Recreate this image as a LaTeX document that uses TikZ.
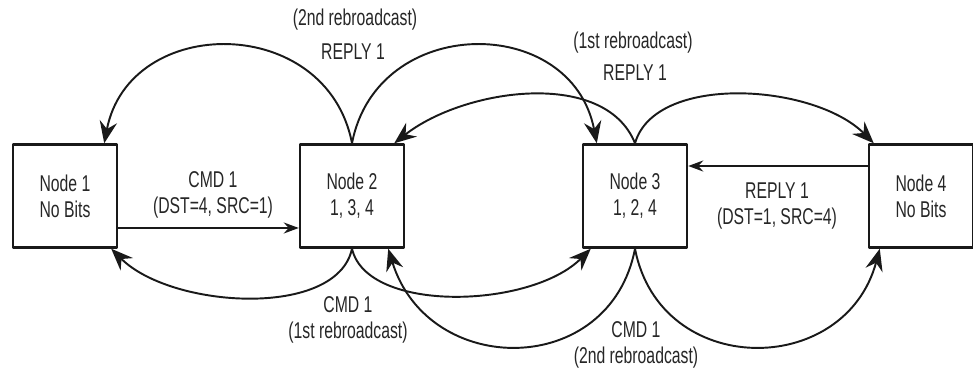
\documentclass[tikz,border=0pt]{standalone}
\usepackage{fontspec}
\setmainfont{Liberation Sans}[FakeStretch=0.69]
\usetikzlibrary{arrows.meta}

\begin{document}
\begin{tikzpicture}[
			x=0.02cm, y=-0.02cm,
			every node/.style={font=\fontsize{13}{14.8}\selectfont, text=black!85},
			station/.style={draw=black!90, line width=1.4pt, minimum width=2.08cm, minimum height=2.06cm, align=center, inner sep=0pt},
			msg/.style={align=center, inner sep=0pt},
			hop/.style={-{Stealth[length=4.4mm, width=3.5mm, inset=1.5mm]}, line width=1.1pt, black!90},
			link/.style={-{Stealth[length=3mm, width=2.2mm]}, line width=1.1pt, black!90},
			line cap=round,
			line join=round
			]
			\useasboundingbox (0,0) rectangle (973,371);
			
			% Nodes
			\node[station] (n1) at (65,196) {Node 1\\No Bits};
			\node[station] (n2) at (352,196) {Node 2\\1, 3, 4};
			\node[station] (n3) at (635,196) {Node 3\\1, 2, 4};
			\node[station] (n4) at (921,196) {Node 4\\No Bits};
			
			% Direct messages
			\draw[link] ([yshift=-0.64cm]n1.east) -- ([yshift=-0.64cm]n2.west);
			\draw[link] ([yshift=0.6cm]n4.west) -- ([yshift=0.6cm]n3.east);
			\node[msg] (cmd) at (213,195) {CMD 1\\(DST=4, SRC=1)};
			\node[msg] (reply) at (777,206) {REPLY 1\\(DST=1, SRC=4)};
			
			% Reply rebroadcasts
			\draw[hop] (n2.north) .. controls +(-25,-130) and +(25,-130) .. ([xshift=-0.28cm]n1.north east);
			\draw[hop] (n2.north) .. controls +(25,-130) and +(-25,-130) .. ([xshift=0.3cm]n3.north west);
			\draw[hop] (n3.north) .. controls +(-30,-75) and +(70,-55) .. ([xshift=-0.22cm]n2.north east);
			\draw[hop] (n3.north) .. controls +(20,-70) and +(-60,-60) .. ([xshift=0.12cm]n4.north west);
			\node[msg] (r2note) at (355,20) {(2nd rebroadcast)};
			\node[msg] (r2) at (353,52) {REPLY 1};
			\node[msg] (r1note) at (633,43) {(1st rebroadcast)};
			\node[msg] (r1) at (635,73) {REPLY 1};
			
			% Command rebroadcasts
			\draw[hop] (n2.south) .. controls +(-15,70) and +(60,60) .. ([xshift=-0.14cm]n1.south east);
			\draw[hop] (n2.south) .. controls +(15,65) and +(-60,60) .. ([xshift=0.18cm]n3.south west);
			\draw[hop] (n3.south) .. controls +(-25,130) and +(40,130) .. ([xshift=-0.34cm]n2.south east);
			\draw[hop] (n3.south) .. controls +(25,130) and +(-35,130) .. ([xshift=0.24cm]n4.south west);
			\node[msg] (c1) at (348,319.5) {CMD 1\\(1st rebroadcast)};
			\node[msg] (c2) at (636,344.5) {CMD 1\\(2nd rebroadcast)};
		\end{tikzpicture}
\end{document}
